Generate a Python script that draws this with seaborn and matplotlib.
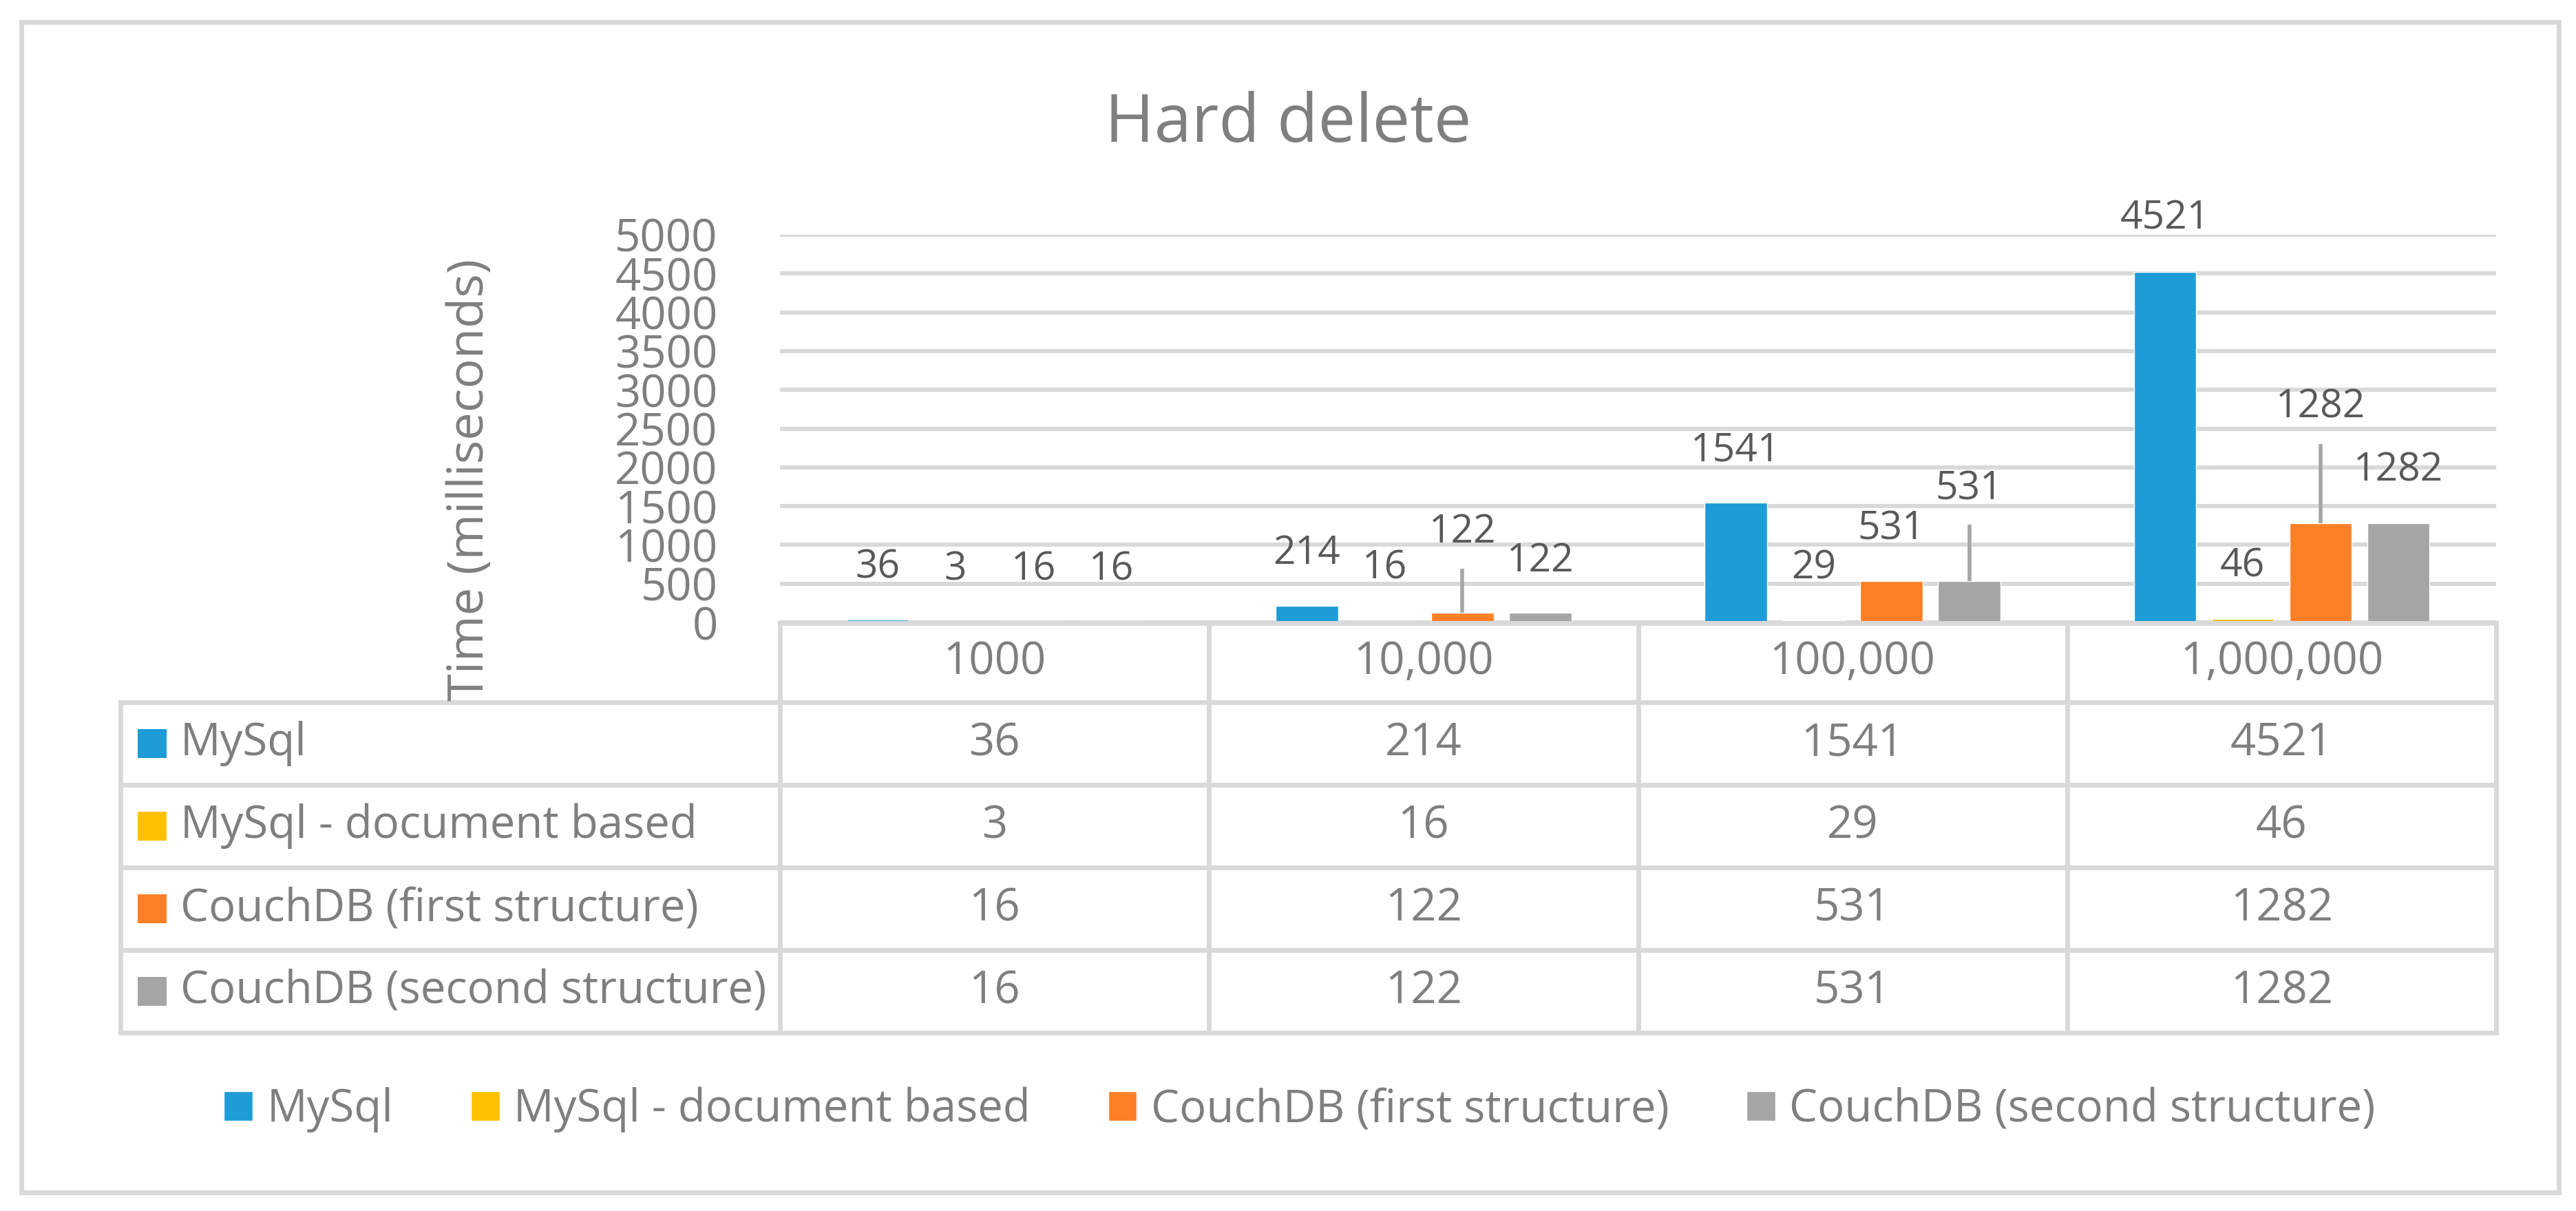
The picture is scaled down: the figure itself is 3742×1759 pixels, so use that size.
import numpy as np
import pandas as pd
import matplotlib
matplotlib.use("Agg")
import matplotlib.pyplot as plt
import matplotlib.transforms as mtransforms
from matplotlib.lines import Line2D
from matplotlib.patches import Rectangle
import seaborn as sns

# ---------------- data ----------------
categories = ["1000", "10,000", "100,000", "1,000,000"]
series = ["MySql", "MySql - document based", "CouchDB (first structure)", "CouchDB (second structure)"]
mysql = [36, 214, 1541, 4521]
mysql_doc = [3, 16, 29, 46]
couch_first = [16, 122, 531, 1282]
couch_second = [16, 122, 531, 1282]
yticks = list(range(0, 5001, 500))
title = "Hard delete"
ylabel = "Time (milliseconds)"

# ---------------- layout / style ----------------
W, H = 3742, 1759
colors = ["#1D9CD8", "#FFC000", "#FE7F26", "#A5A5A5"]
GRID = "#D9D9D9"
TXT = "#7F7F7F"
LBL = "#595959"
LEADER = "#A6A6A6"
# data-label vertical positions (data units), per category then series (labels were moved by hand)
label_pos = [[702, 675, 675, 675],
             [888, 693, 1163, 790],
             [2211, 693, 1199, 1714],
             [5204, 719, 2771, 1958]]
# leader lines: (category index, series index, upper end in data units)
leaders = [(1, 2, 693), (2, 3, 1261), (3, 2, 2300)]

sns.set_style("white")
plt.rcParams["font.family"] = ["Open Sans", "DejaVu Sans"]

def fx(px):
    return px / W

def fy(py):
    return 1 - py / H

values = [mysql, mysql_doc, couch_first, couch_second]
df = pd.DataFrame({
    "category": [c for s in series for c in categories],
    "series": [s for s in series for c in categories],
    "value": [v for vals in values for v in vals],
})

fig = plt.figure(figsize=(W / 100, H / 100), dpi=100)
fig.patch.set_facecolor("white")
ax_l, ax_r, ax_t, ax_b = 1133, 3626, 341, 904
ax = fig.add_axes([fx(ax_l), fy(ax_b), (ax_r - ax_l) / W, (ax_b - ax_t) / H])

sns.barplot(data=df, x="category", y="value", hue="series", order=categories,
            hue_order=series, palette=colors, width=0.7255, gap=0.2,
            errorbar=None, saturation=1, ax=ax)

ax.set_xlim(-0.5, 3.5)
ax.set_ylim(0, 5000)
ax.set_yticks(yticks)
ax.set_yticklabels([str(t) for t in yticks])
ax.set_xticks([])
ax.set_xlabel("")
ax.set_ylabel("")
ax.yaxis.grid(True, color=GRID, lw=4.3)
ax.set_axisbelow(True)
for sp in ax.spines.values():
    sp.set_visible(False)
ax.tick_params(axis="y", length=0, pad=65, labelsize=47, labelcolor=TXT)

# data labels
for s_idx, cont in enumerate(ax.containers):
    for c_idx, bar in enumerate(cont.patches):
        xc = bar.get_x() + bar.get_width() / 2
        ax.text(xc, label_pos[c_idx][s_idx], str(values[s_idx][c_idx]),
                ha="center", va="center", fontsize=41, color=LBL, clip_on=False)
for c_idx, s_idx, top in leaders:
    bar = ax.containers[s_idx].patches[c_idx]
    xc = bar.get_x() + bar.get_width() / 2
    ax.plot([xc, xc], [bar.get_height(), top], color=LEADER, lw=4, clip_on=False,
            solid_capstyle="butt")

# legend
sns.move_legend(ax, "center", bbox_to_anchor=(fx(1888), fy(1612)),
                bbox_transform=fig.transFigure, ncol=4, frameon=False, title=None,
                fontsize=47, labelcolor=TXT, handlelength=0.64, handleheight=0.64,
                handletextpad=0.31, columnspacing=1.73)

# ---------------- data table ----------------
blend = mtransforms.blended_transform_factory(ax.transData, fig.transFigure)
LW_T = 5
tab_left = 175
head_top, head_bot = 905, 1020
row_h = 120
rows_bot = head_bot + row_h * len(series)

# horizontal lines
fig.add_artist(Line2D([-0.5, 3.5], [fy(head_top)] * 2, transform=blend, color=GRID, lw=LW_T,
                      solid_capstyle="projecting"))
for r in range(len(series) + 1):
    yy = head_bot + r * row_h
    fig.add_artist(Line2D([fx(tab_left), fx(ax_r)], [fy(yy)] * 2, transform=fig.transFigure,
                          color=GRID, lw=LW_T, solid_capstyle="projecting"))
# vertical lines
for k in range(len(categories) + 1):
    fig.add_artist(Line2D([k - 0.5, k - 0.5], [fy(head_top), fy(rows_bot)], transform=blend,
                          color=GRID, lw=LW_T, solid_capstyle="projecting"))
fig.add_artist(Line2D([fx(tab_left)] * 2, [fy(head_bot), fy(rows_bot)], transform=fig.transFigure,
                      color=GRID, lw=LW_T, solid_capstyle="projecting"))

# header
for c_idx, cat in enumerate(categories):
    fig.text(c_idx, fy((head_top + head_bot) / 2), cat, transform=blend, ha="center",
             va="center", fontsize=47, color=TXT)
# rows
for r, name in enumerate(series):
    yc = head_bot + row_h * r + row_h / 2
    fig.add_artist(Rectangle((fx(200), fy(yc + 21)), 42 / W, 42 / H, transform=fig.transFigure,
                             facecolor=colors[r], edgecolor="none"))
    fig.text(fx(262), fy(yc), name, ha="left", va="center", fontsize=47, color=TXT)
    for c_idx in range(len(categories)):
        fig.text(c_idx, fy(yc), str(values[r][c_idx]), transform=blend, ha="center",
                 va="center", fontsize=47, color=TXT)

# titles
fig.text(fx(1871), fy(206), title, ha="center", va="baseline", fontsize=70, color=TXT)
fig.text(fx(683), fy(697), ylabel, ha="center", va="center", rotation=90, fontsize=52, color=TXT)

# outer border
fig.add_artist(Rectangle((fx(31), fy(1732)), (3717 - 31) / W, (1732 - 32) / H,
                         transform=fig.transFigure, facecolor="none", edgecolor=GRID, lw=5))

fig.savefig("out.png", dpi=100, facecolor="white")
